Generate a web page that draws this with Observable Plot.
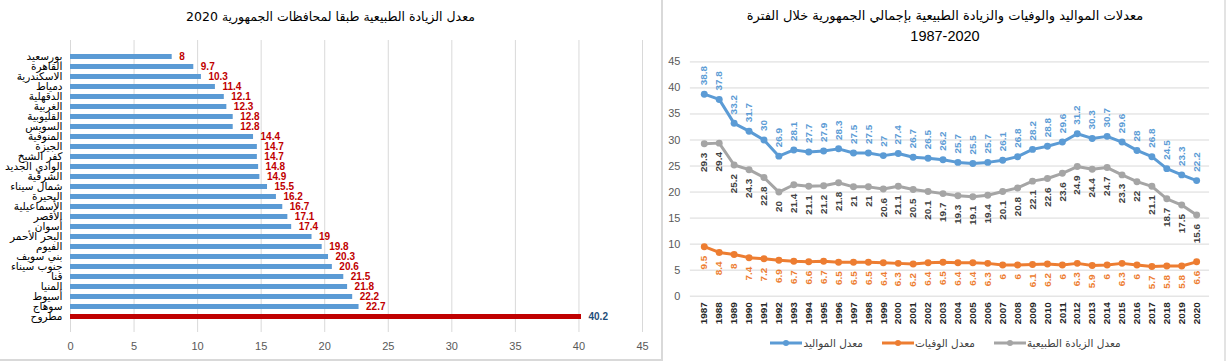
<!DOCTYPE html>
<html><head><meta charset="utf-8">
<script src="https://cdn.jsdelivr.net/npm/d3@7"></script>
<script src="https://cdn.jsdelivr.net/npm/@observablehq/plot@0.6"></script>
<style>
body{margin:0;background:#fff;font-family:"Liberation Sans",sans-serif;}
#wrap{position:relative;width:1227px;height:361px;overflow:hidden;background:#fff}
#left{position:absolute;left:0;top:0;width:661px;height:359px;border-right:2px solid #d9d9d9;border-bottom:2px solid #d9d9d9}
#right{position:absolute;left:663px;top:0;width:561px;height:361px;border-right:2px solid #e3e3e3}
.title{position:absolute;font-family:"DejaVu Sans",sans-serif;font-weight:normal;color:#000;text-align:center;direction:rtl;white-space:nowrap}
.chart{position:absolute}
#legend{position:absolute;left:0;width:564px;top:337px;display:flex;justify-content:center;gap:18px;direction:ltr;font-family:"DejaVu Sans",sans-serif;font-size:10.5px;color:#404040}
.item{display:flex;align-items:center}
.item span{direction:rtl}
</style></head>
<body>
<div id="wrap">
  <div id="left">
    <div class="title" style="left:0;width:661px;top:9px;font-size:12.5px">معدل الزيادة الطبيعية طبقا لمحافظات الجمهورية 2020</div>
    <div class="chart" id="lchart" style="left:0;top:30px"></div>
  </div>
  <div id="right">
    <div class="title" style="left:0;width:564px;top:8px;font-size:13px">معدلات المواليد والوفيات والزيادة الطبيعية بإجمالي الجمهورية خلال الفترة</div>
    <div class="title" style="left:0;width:564px;top:28px;direction:ltr;font-family:'Liberation Sans',sans-serif;font-size:14.5px">1987-2020</div>
    <div class="chart" id="rchart" style="left:0;top:48px"></div>
    <div id="legend"></div>
  </div>
</div>
<script>
// ---------- Left chart data ----------
const govNames = ["بورسعيد","القاهرة","الاسكندرية","دمياط","الدقهلية","الغربية","القليوبية","السويس","المنوفية","الجيزة","كفر الشيخ","الوادي الجديد","الشرقية","شمال سيناء","البحيرة","الأسماعيلية","الأقصر","أسوان","البحر الأحمر","الفيوم","بني سويف","جنوب سيناء","قنا","المنيا","أسيوط","سوهاج","مطروح"];
const govValues = [8,9.7,10.3,11.4,12.1,12.3,12.8,12.8,14.4,14.7,14.7,14.8,14.9,15.5,16.2,16.7,17.1,17.4,19,19.8,20.3,20.6,21.5,21.8,22.2,22.7,40.2];
const highlightGov = "مطروح";
const leftTicks = [0,5,10,15,20,25,30,35,40,45];

// ---------- Right chart data ----------
const years = [1987,1988,1989,1990,1991,1992,1993,1994,1995,1996,1997,1998,1999,2000,2001,2002,2003,2004,2005,2006,2007,2008,2009,2010,2011,2012,2013,2014,2015,2016,2017,2018,2019,2020];
const birthRate = [38.8,37.8,33.2,31.7,30,26.9,28.1,27.7,27.9,28.3,27.5,27.5,27,27.4,26.7,26.5,26.2,25.7,25.5,25.7,26.1,26.8,28.2,28.8,29.6,31.2,30.3,30.7,29.6,28,26.8,24.5,23.3,22.2];
const deathRate = [9.5,8.4,8,7.4,7.2,6.9,6.7,6.6,6.7,6.5,6.5,6.5,6.4,6.3,6.2,6.4,6.5,6.4,6.4,6.3,6,6,6.1,6.2,6,6.3,5.9,6,6.3,6,5.7,5.8,5.8,6.6];
const naturalRate = [29.3,29.4,25.2,24.3,22.8,20,21.4,21.1,21.2,21.8,21,21,20.6,21.1,20.5,20.1,19.7,19.3,19.1,19.4,20.1,20.8,22.1,22.6,23.6,24.9,24.4,24.7,23.3,22,21.1,18.7,17.5,15.6];
const seriesNames = ["معدل المواليد","معدل الوفيات","معدل الزيادة الطبيعية"];
const rightTicks = [0,5,10,15,20,25,30,35,40,45];

// ---------- Left chart ----------
const barData = govNames.map((name, i) => ({name, value: govValues[i]}));
const normal = barData.filter(d => d.name !== highlightGov);
const special = barData.filter(d => d.name === highlightGov);

const left = Plot.plot({
  width: 661, height: 330,
  marginTop: 10, marginBottom: 28, marginLeft: 70, marginRight: 19,
  style: {background: "transparent", fontFamily: "Liberation Sans, sans-serif", fontSize: "11px", color: "#595959"},
  x: {domain: [0, 45], label: null},
  y: {domain: govNames, paddingInner: 0.54, paddingOuter: 0.23, label: null},
  marks: [
    Plot.gridX(leftTicks, {stroke: "#d9d9d9", strokeOpacity: 1, strokeWidth: 1}),
    Plot.barX(normal, {x: "value", y: "name", fill: "#5b9bd5"}),
    Plot.barX(special, {x: "value", y: "name", fill: "#c00000"}),
    Plot.text(normal, {x: "value", y: "name", text: d => String(d.value), textAnchor: "start", dx: 7, fill: "#c00000", fontWeight: "bold", fontSize: 10}),
    Plot.text(special, {x: "value", y: "name", text: d => String(d.value), textAnchor: "start", dx: 7, fill: "#1f4e79", fontWeight: "bold", fontSize: 10}),
    Plot.axisX(leftTicks, {tickSize: 0, tickPadding: 10, fill: "#595959", label: null, fontSize: 11}),
    Plot.axisY({tickSize: 0, tickPadding: 8, fontFamily: "DejaVu Sans, sans-serif", fontSize: 10.5, fill: "#000", label: null})
  ]
});
document.getElementById("lchart").appendChild(left);

// ---------- Right chart ----------
const colors = ["#5b9bd5", "#ed7d31", "#a5a5a5"];
const labelColors = ["#5b9bd5", "#ed7d31", "#404040"];
const births = years.map((year, i) => ({year, value: birthRate[i]}));
const deaths = years.map((year, i) => ({year, value: deathRate[i]}));
const natural = years.map((year, i) => ({year, value: naturalRate[i]}));

function seriesMarks(data, k, above) {
  return [
    Plot.line(data, {x: "year", y: "value", stroke: colors[k], strokeWidth: 3, curve: "linear"}),
    Plot.dot(data, {x: "year", y: "value", r: 3.5, fill: colors[k], stroke: null}),
    Plot.text(data, {x: "year", y: "value", text: d => String(d.value), rotate: -90,
      textAnchor: above ? "start" : "end", dy: above ? -9 : 9,
      fill: labelColors[k], fontWeight: "bold", fontSize: 10})
  ];
}

const right = Plot.plot({
  width: 564, height: 287,
  marginTop: 13.5, marginBottom: 38, marginLeft: 27, marginRight: 15,
  style: {background: "transparent", fontFamily: "Liberation Sans, sans-serif", fontSize: "11px", color: "#595959"},
  x: {type: "point", domain: years, padding: 0.5, label: null},
  y: {domain: [0, 45], label: null},
  marks: [
    Plot.gridY(rightTicks, {stroke: "#d9d9d9", strokeOpacity: 1, strokeWidth: 1}),
    ...seriesMarks(natural, 2, false),
    ...seriesMarks(deaths, 1, false),
    ...seriesMarks(births, 0, true),
    Plot.axisY(rightTicks, {tickSize: 0, tickPadding: 10, fill: "#595959", label: null, fontSize: 11}),
    Plot.axisX({tickSize: 0, tickPadding: 6, tickRotate: -90, tickFormat: d => String(d), fill: "#262626", fontWeight: "bold", fontSize: 10, label: null})
  ]
});
document.getElementById("rchart").appendChild(right);

// ---------- Legend ----------
const legend = document.getElementById("legend");
seriesNames.forEach((name, k) => {
  const item = document.createElement("div");
  item.className = "item";
  item.innerHTML = `<svg width="34" height="10"><line x1="1" y1="5" x2="33" y2="5" stroke="${colors[k]}" stroke-width="3"/><circle cx="17" cy="5" r="3" fill="${colors[k]}"/></svg><span>${name}</span>`;
  legend.appendChild(item);
});
</script>
</body></html>
